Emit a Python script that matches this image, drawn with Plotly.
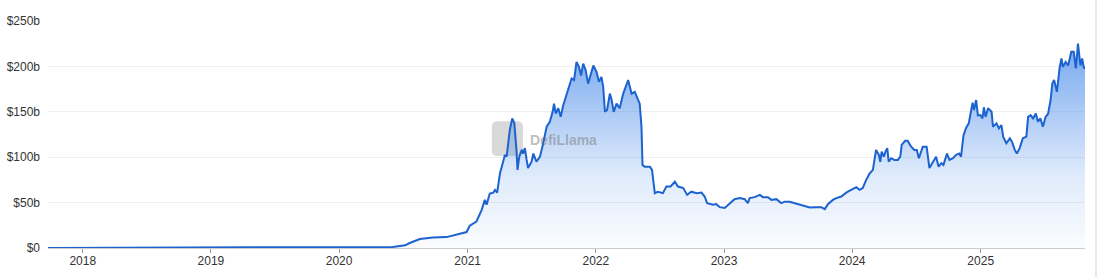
import plotly.graph_objects as go

dates = [
    "2017-09-24", "2018-01-01", "2018-07-10", "2019-01-01", "2019-05-19", "2019-09-10",
    "2020-01-01", "2020-03-01", "2020-04-12", "2020-06-02", "2020-07-07", "2020-07-20",
    "2020-08-18", "2020-09-24", "2020-11-02", "2020-11-25", "2020-12-19", "2020-12-29",
    "2021-01-07", "2021-01-26", "2021-02-10", "2021-02-19", "2021-02-24", "2021-03-05",
    "2021-03-15", "2021-03-20", "2021-03-26", "2021-04-03", "2021-04-12", "2021-04-17",
    "2021-04-22", "2021-04-27", "2021-05-01", "2021-05-08", "2021-05-14", "2021-05-20",
    "2021-05-23", "2021-05-28", "2021-06-04", "2021-06-08", "2021-06-13", "2021-06-18",
    "2021-06-22", "2021-07-02", "2021-07-07", "2021-07-16", "2021-07-26", "2021-08-04",
    "2021-08-14", "2021-08-23", "2021-08-31", "2021-09-04", "2021-09-09", "2021-09-16",
    "2021-09-23", "2021-09-30", "2021-10-10", "2021-10-19", "2021-10-24", "2021-10-31",
    "2021-11-07", "2021-11-14", "2021-11-20", "2021-11-26", "2021-12-03", "2021-12-10",
    "2021-12-17", "2021-12-25", "2022-01-03", "2022-01-10", "2022-01-17", "2022-01-22",
    "2022-01-27", "2022-02-02", "2022-02-10", "2022-02-15", "2022-02-21", "2022-03-01",
    "2022-03-10", "2022-03-20", "2022-04-03", "2022-04-13", "2022-04-22", "2022-05-01",
    "2022-05-06", "2022-05-11", "2022-05-14", "2022-05-20", "2022-06-04", "2022-06-10",
    "2022-06-18", "2022-06-27", "2022-07-11", "2022-07-21", "2022-08-02", "2022-08-14",
    "2022-08-23", "2022-09-07", "2022-09-18", "2022-09-30", "2022-10-15", "2022-10-29",
    "2022-11-07", "2022-11-14", "2022-12-01", "2022-12-10", "2022-12-20", "2023-01-03",
    "2023-01-17", "2023-01-31", "2023-02-15", "2023-03-01", "2023-03-10", "2023-03-15",
    "2023-03-29", "2023-04-13", "2023-04-22", "2023-05-06", "2023-05-16", "2023-05-30",
    "2023-06-13", "2023-06-23", "2023-07-07", "2023-07-21", "2023-08-04", "2023-08-19",
    "2023-09-02", "2023-09-21", "2023-10-05", "2023-10-15", "2023-10-24", "2023-11-07",
    "2023-11-17", "2023-12-01", "2023-12-15", "2023-12-29", "2024-01-13", "2024-01-22",
    "2024-01-31", "2024-02-10", "2024-02-19", "2024-02-29", "2024-03-09", "2024-03-17",
    "2024-03-21", "2024-03-25", "2024-03-31", "2024-04-05", "2024-04-10", "2024-04-14",
    "2024-04-21", "2024-04-30", "2024-05-10", "2024-05-17", "2024-05-21", "2024-05-31",
    "2024-06-07", "2024-06-17", "2024-06-26", "2024-07-03", "2024-07-09", "2024-07-20",
    "2024-07-31", "2024-08-08", "2024-08-18", "2024-08-27", "2024-09-03", "2024-09-11",
    "2024-09-17", "2024-09-27", "2024-10-04", "2024-10-14", "2024-10-23", "2024-11-01",
    "2024-11-06", "2024-11-13", "2024-11-20", "2024-11-28", "2024-12-05", "2024-12-09",
    "2024-12-13", "2024-12-19", "2024-12-24", "2024-12-31", "2025-01-06", "2025-01-10",
    "2025-01-15", "2025-01-22", "2025-02-01", "2025-02-05", "2025-02-15", "2025-02-22",
    "2025-03-01", "2025-03-06", "2025-03-15", "2025-03-25", "2025-03-31", "2025-04-08",
    "2025-04-14", "2025-04-22", "2025-05-01", "2025-05-11", "2025-05-16", "2025-05-23",
    "2025-05-30", "2025-06-07", "2025-06-13", "2025-06-20", "2025-06-27", "2025-07-05",
    "2025-07-12", "2025-07-19", "2025-07-24", "2025-07-29", "2025-08-06", "2025-08-14",
    "2025-08-19", "2025-08-23", "2025-08-31", "2025-09-07", "2025-09-16", "2025-09-23",
    "2025-09-29", "2025-10-05", "2025-10-12", "2025-10-17", "2025-10-22", "2025-10-25",
]

tvl_billions = [
    0.05, 0.1, 0.2, 0.3, 0.5, 0.7,
    0.8, 0.6, 0.7, 1.2, 3.0, 5.5,
    9.9, 11.6, 12.0, 14.0, 16.5, 17.6,
    24.5, 29.2, 42.0, 53.0, 47.6, 60.0,
    61.0, 64.0, 61.0, 82.0, 95.0, 102.5,
    100.6, 115.0, 130.0, 142.8, 137.3, 108.0,
    86.0, 100.6, 108.0, 104.0, 110.0, 97.0,
    88.0, 95.0, 104.0, 95.0, 100.6, 115.0,
    133.6, 139.0, 150.0, 159.0, 148.0, 154.0,
    144.5, 157.0, 170.0, 183.0, 186.7, 185.0,
    205.0, 199.5, 190.0, 203.0, 196.0, 181.0,
    190.0, 201.0, 194.0, 183.0, 188.5, 177.5,
    150.0, 152.0, 170.0, 163.0, 150.0, 159.0,
    154.0, 170.0, 185.0, 170.0, 172.0, 163.0,
    159.0, 133.6, 91.5, 89.6, 89.6, 86.0,
    60.4, 62.0, 60.4, 67.7, 67.7, 73.0,
    67.7, 66.0, 58.5, 62.0, 60.4, 61.0,
    56.7, 49.4, 47.6, 48.3, 45.0, 44.0,
    49.4, 53.8, 55.0, 53.8, 49.4, 55.0,
    56.0, 58.5, 56.0, 56.0, 53.0, 53.8,
    49.4, 51.0, 51.0, 49.4, 47.6, 45.7,
    44.6, 45.0, 45.0, 42.8, 48.3, 53.0,
    55.0, 56.7, 61.0, 64.0, 67.0, 64.0,
    66.0, 75.0, 81.6, 86.0, 108.0, 102.5,
    95.0, 106.0, 100.6, 106.0, 110.0, 95.0,
    98.9, 97.0, 97.0, 100.6, 113.5, 118.0,
    118.0, 111.6, 108.0, 108.0, 98.9, 111.6,
    111.6, 88.0, 95.0, 100.6, 89.6, 93.4,
    91.5, 104.0, 97.0, 98.9, 102.5, 104.0,
    100.6, 124.0, 132.0, 137.3, 152.0, 160.0,
    152.0, 163.0, 146.0, 146.4, 142.8, 155.0,
    144.5, 154.0, 150.0, 133.6, 137.3, 131.8,
    135.4, 122.6, 115.3, 120.8, 117.0, 108.0,
    104.0, 110.0, 120.8, 122.6, 144.5, 146.4,
    142.8, 148.0, 139.0, 142.8, 133.6, 144.5,
    148.0, 163.0, 181.0, 185.0, 172.0, 199.5,
    208.7, 199.5, 205.0, 201.0, 216.0, 216.0,
    197.7, 225.0, 201.0, 208.7, 197.7, 200.0,
]

y_tick_vals = [0, 50, 100, 150, 200, 250]
y_tick_text = ["$0", "$50b", "$100b", "$150b", "$200b", "$250b"]
x_tick_vals = ["2018-01-01", "2019-01-01", "2020-01-01", "2021-01-01",
               "2022-01-01", "2023-01-01", "2024-01-01", "2025-01-01"]
x_tick_text = ["2018", "2019", "2020", "2021", "2022", "2023", "2024", "2025"]

LINE = "#1c63d0"

fig = go.Figure()
fig.add_trace(go.Scatter(
    x=dates, y=tvl_billions, mode="lines",
    line=dict(color=LINE, width=2),
    fill="tozeroy",
    fillgradient=dict(
        type="vertical", start=0, stop=225,
        colorscale=[[0, "rgba(33,114,229,0.02)"], [0.35, "rgba(33,114,229,0.14)"],
                    [1, "rgba(33,114,229,0.62)"]],
    ),
    hoverinfo="skip",
))

font = dict(family="Liberation Sans, Arial, Helvetica, sans-serif", size=12, color="#333333")

fig.update_layout(
    width=1101, height=277,
    margin=dict(l=48, r=16, t=21, b=29),
    paper_bgcolor="white", plot_bgcolor="white",
    showlegend=False,
    font=font,
    xaxis=dict(
        range=["2017-09-24", "2025-10-25"],
        tickvals=x_tick_vals, ticktext=x_tick_text,
        showgrid=False, zeroline=False, automargin=False,
        showline=True, linecolor="#cccccc", linewidth=1,
        ticks="outside", ticklen=4, tickcolor="#999999", tickwidth=1,
        ticklabelstandoff=-2,
        tickfont=font,
    ),
    yaxis=dict(
        range=[0, 250],
        tickvals=y_tick_vals, ticktext=y_tick_text,
        showgrid=True, gridcolor="#f0f0f0", gridwidth=1,
        zeroline=False, showline=False, ticks="", automargin=False,
        ticklabelstandoff=7,
        tickfont=font,
    ),
)

# watermark logo (rounded square) and text
x0, x1, y0, y1, r = 0.428, 0.458, 0.405, 0.558, 0.006
ry = 0.025
fig.add_shape(
    type="path", xref="paper", yref="paper", layer="below",
    path=(f"M {x0+r},{y0} L {x1-r},{y0} Q {x1},{y0} {x1},{y0+ry} "
          f"L {x1},{y1-ry} Q {x1},{y1} {x1-r},{y1} L {x0+r},{y1} "
          f"Q {x0},{y1} {x0},{y1-ry} L {x0},{y0+ry} Q {x0},{y0} {x0+r},{y0} Z"),
    fillcolor="rgba(120,120,120,0.28)", line=dict(width=0),
)
fig.add_annotation(
    xref="paper", yref="paper", x=0.497, y=0.476, text="<b>DefiLlama</b>",
    showarrow=False, font=dict(family="Liberation Sans, Arial, sans-serif", size=14,
                               color="rgba(110,110,110,0.45)"),
)
# right container border
fig.add_shape(type="line", xref="paper", yref="paper", x0=1.0106, x1=1.0106,
              y0=-0.13, y1=1.1, line=dict(color="#d0d0d0", width=1))

fig.write_html("out.html")
